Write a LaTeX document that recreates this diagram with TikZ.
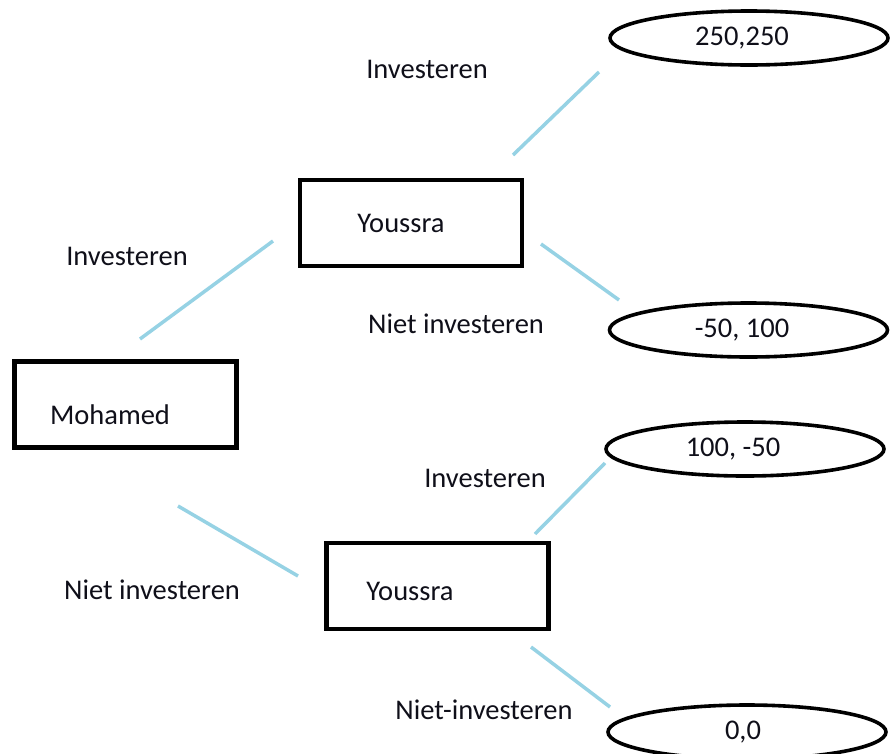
\documentclass[tikz,border=0pt]{standalone}
\usepackage{fontspec}
\setmainfont{Carlito}
\usetikzlibrary{shapes.geometric}
\definecolor{lineblue}{RGB}{150,210,228}
\definecolor{txt}{RGB}{15,15,25}
\tikzset{
  box/.style={draw=black, line width=4.2pt, minimum width=222pt, minimum height=86pt, inner sep=0pt},
  payoff/.style={draw=black, ellipse, line width=3.6pt, minimum width=278pt, minimum height=54pt, inner sep=0pt},
  lbl/.style={font=\fontsize{28.5}{31}\selectfont, text=txt, inner sep=0pt},
  branch/.style={draw=lineblue, line width=3.5pt}
}
\begin{document}
\begin{tikzpicture}[x=1pt,y=-1pt]
\useasboundingbox (0,0) rectangle (892,753);
% boxes
\node[box] (moh) at (125.5,404.5) {};
\node[lbl] (mohT) at (110,415) {Mohamed};
\node[box] (you1) at (411,223) {};
\node[lbl] (you1T) at (401,223) {Youssra};
\node[box] (you2) at (437.5,586) {};
\node[lbl] (you2T) at (410,591) {Youssra};
% payoffs
\node[payoff] (p1) at (749,38) {};
\node[lbl] (p1T) at (742,38) {250,250};
\node[payoff] (p2) at (748.5,330) {};
\node[lbl] (p2T) at (742,330) {-50, 100};
\node[payoff] (p3) at (745,449) {};
\node[lbl] (p3T) at (733,449) {100, -50};
\node[payoff] (p4) at (747,732) {};
\node[lbl] (p4T) at (743,732) {0,0};
% labels
\node[lbl] (l1) at (427,69) {Investeren};
\node[lbl] (l2) at (127,256) {Investeren};
\node[lbl] (l3) at (456,324) {Niet investeren};
\node[lbl] (l4) at (152,590) {Niet investeren};
\node[lbl] (l5) at (485,478) {Investeren};
\node[lbl] (l6) at (484,710) {Niet-investeren};
% branch endpoints
\coordinate (a1) at (140,339); \coordinate (a2) at (273,241);
\coordinate (b1) at (178,506); \coordinate (b2) at (298,576);
\coordinate (c1) at (513,155); \coordinate (c2) at (599,72);
\coordinate (d1) at (541,244); \coordinate (d2) at (619,300);
\coordinate (e1) at (535,534); \coordinate (e2) at (605,463);
\coordinate (f1) at (531,647); \coordinate (f2) at (610,707);
\draw[branch] (a1) -- (a2);
\draw[branch] (b1) -- (b2);
\draw[branch] (c1) -- (c2);
\draw[branch] (d1) -- (d2);
\draw[branch] (e1) -- (e2);
\draw[branch] (f1) -- (f2);
\end{tikzpicture}
\end{document}
